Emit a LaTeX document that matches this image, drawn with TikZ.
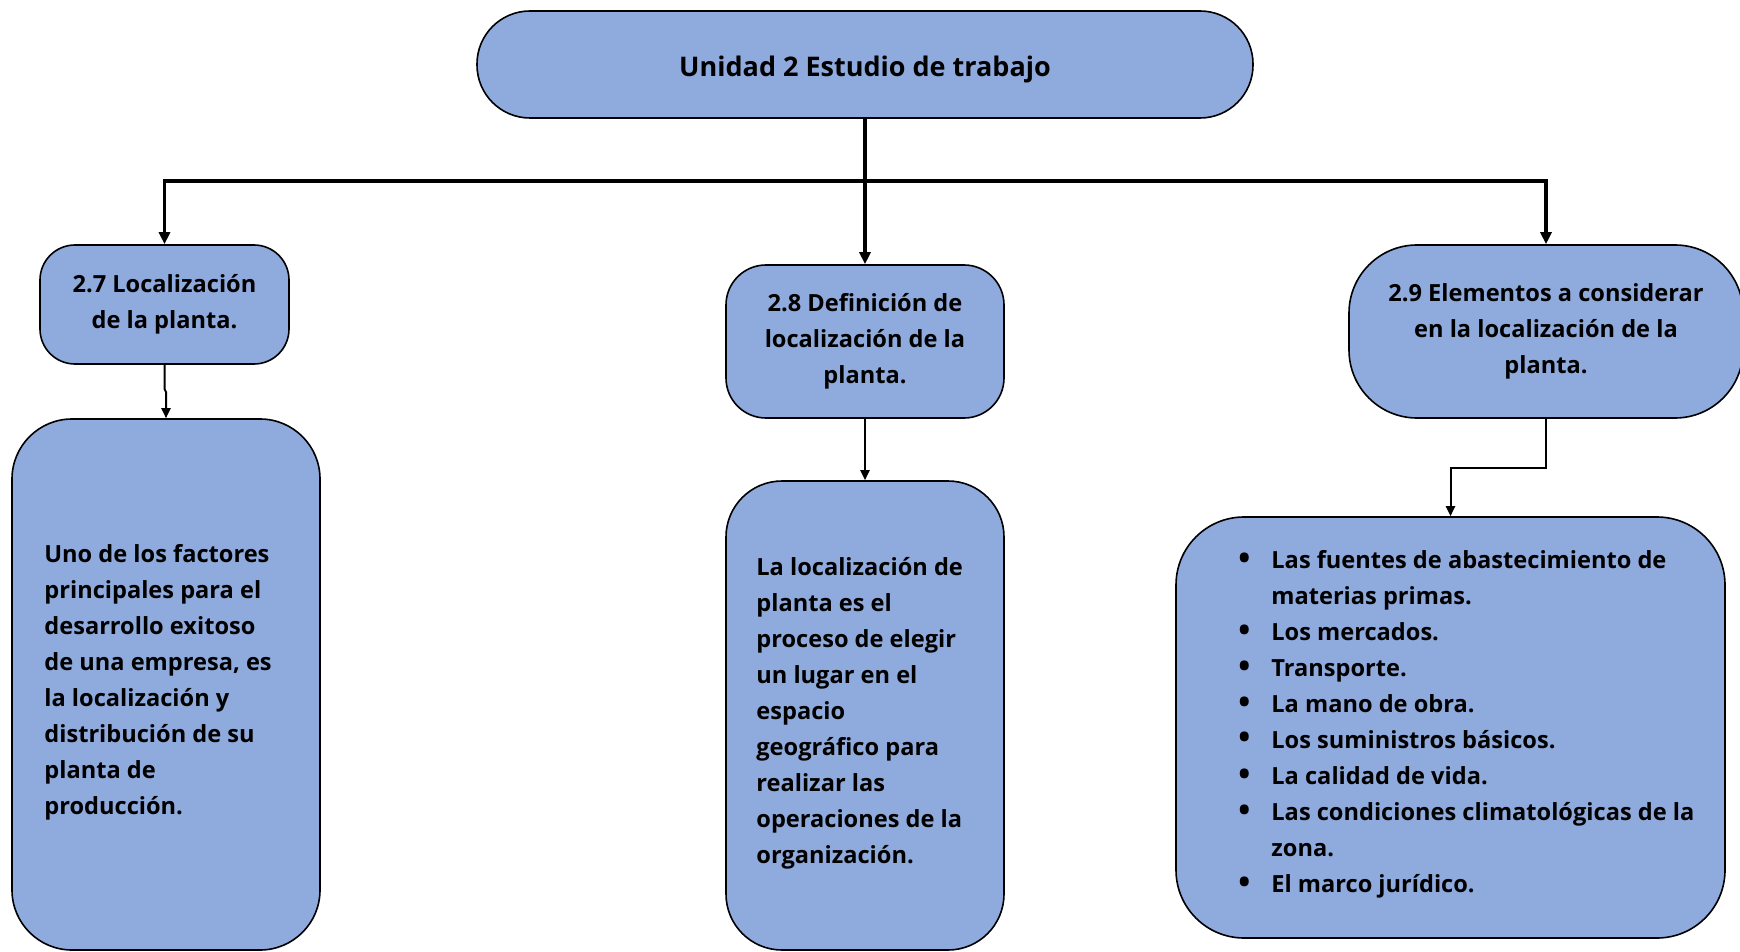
\documentclass[tikz,border=0pt]{standalone}
\usepackage{fontspec}
\setmainfont{Open Sans}
\usetikzlibrary{arrows.meta}
\definecolor{boxblue}{HTML}{8FAADC}
\tikzset{
  box/.style={draw=black, line width=0.8pt, fill=boxblue, inner sep=0pt, align=center,
    font=\bfseries\fontsize{11.8}{18}\selectfont},
  body/.style={inner sep=0pt, align=left, anchor=west, font=\bfseries\fontsize{11.8}{18}\selectfont},
  tree/.style={line width=1.6pt, -{Triangle[length=6pt,width=5.5pt]}},
  link/.style={line width=1pt, -{Triangle[length=5pt,width=4.5pt]}},
}
\newcommand{\bul}{\makebox[16.5pt][l]{\raisebox{-0.4pt}{\scalebox{1.35}{\textbullet}}}}
\newcommand{\ind}{\hspace*{16.5pt}}
\begin{document}
\begin{tikzpicture}[x=0.5pt,y=-0.5pt]
\useasboundingbox (0,0) rectangle (1740,952);
\fill[white] (0,0) rectangle (1740,952);
% header boxes
\node[box, font=\bfseries\fontsize{13.5}{18}\selectfont, minimum width=388pt, minimum height=53.5pt, rounded corners=26.5pt, text depth=0pt] (title) at (865,64.5) {\raisebox{-2pt}{Unidad 2 Estudio de trabajo}};
\node[box, minimum width=124.5pt, minimum height=59.5pt, rounded corners=17.5pt] (n27) at (164.5,304.5) {2.7 Localización\\de la planta.};
\node[box, minimum width=139pt, minimum height=76.5pt, rounded corners=20pt] (n28) at (865,341.5) {2.8 Definición de\\localización de la\\planta.};
\node[box, minimum width=197pt, minimum height=86.5pt, rounded corners=34pt] (n29) at (1546,331.5) {2.9 Elementos a considerar\\en la localización de la\\planta.};
% detail boxes
\node[box, minimum width=154pt, minimum height=265.5pt, rounded corners=30pt] (d27) at (166,684.5) {};
\node[box, minimum width=139pt, minimum height=234.5pt, rounded corners=28pt] (d28) at (865,715.5) {};
\node[box, minimum width=274.5pt, minimum height=210.5pt, rounded corners=34pt] (d29) at (1450.5,727.5) {};
% texts
\node[body] (t27) at (44,682) {Uno de los factores\\principales para el\\desarrollo exitoso\\de una empresa, es\\la localización y\\distribución de su\\planta de\\producción.};
\node[body] (t28) at (756,713) {La localización de\\planta es el\\proceso de elegir\\un lugar en el\\espacio\\geográfico para\\realizar las\\operaciones de la\\organización.};
\node[body] (t29) at (1238,724) {\bul Las fuentes de abastecimiento de\\\ind materias primas.\\\bul Los mercados.\\\bul Transporte.\\\bul La mano de obra.\\\bul Los suministros básicos.\\\bul La calidad de vida.\\\bul Las condiciones climatológicas de la\\\ind zona.\\\bul El marco jurídico.};
% connectors
\coordinate (hub) at (865,181);
\coordinate (hl) at (164.5,181);
\coordinate (hr) at (1546,181);
\draw[line width=1.6pt] (title.south) -- (hub);
\draw[line width=1.6pt, line cap=rect] (hl) -- (hr);
\draw[tree] (hl) -- (n27.north);
\draw[tree] (hub) -- (n28.north);
\draw[tree] (hr) -- (n29.north);
\coordinate (j1) at (164.5,389);
\coordinate (j2) at (166,392);
\draw[link] (n27.south) -- (j1) -- (j2) -- (d27.north);
\draw[link] (n28.south) -- (d28.north);
\draw[link] (n29.south) -- ++(0,49) -| (d29.north);
\end{tikzpicture}
\end{document}
